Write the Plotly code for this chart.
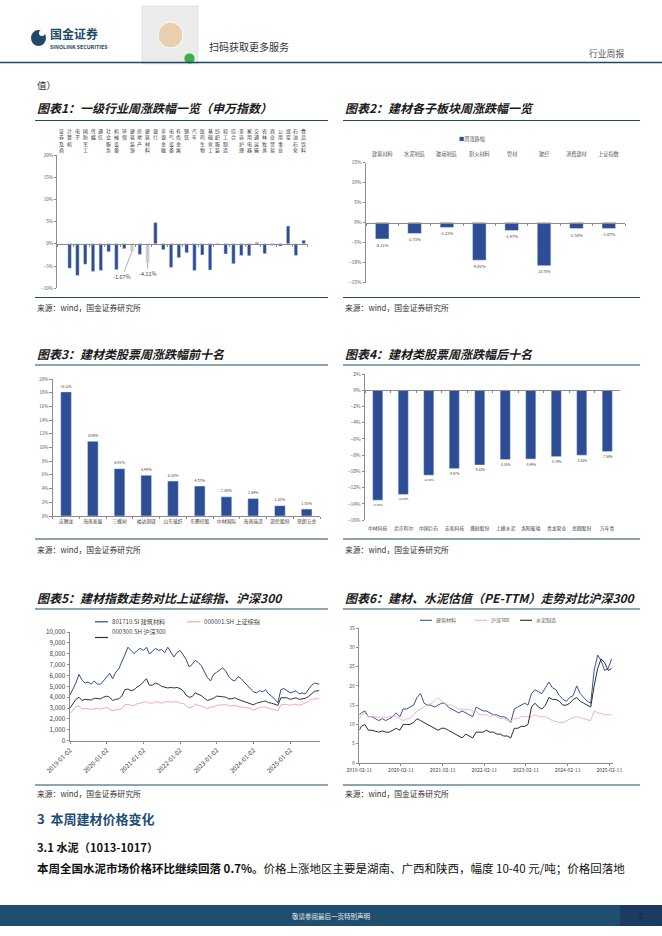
import plotly.graph_objects as go

W, H = 662, 936
def fx(x): return x / W
def fy(y): return 1 - y / H

FONT = "Noto Sans CJK SC"
BAR = "#2d4d96"
GRAY_BAR = "#c9c9c9"
AXC = "#8c8c8c"
TXT = "#404040"
TEAL = "#1d4a66"

# ---------------- data ----------------
c1_names = ["证券及商", "计算机", "电子", "国防军工", "传媒", "通信", "社会服务", "机械设备", "环保",
            "建筑装饰", "房地产", "建筑材料", "银行", "非银金融", "电气设备", "有色金属", "钢铁",
            "汽车", "医药生物", "基础化工", "纺织服装", "轻工制造", "综合", "美容护理", "家用电器",
            "交通运输", "农林牧渔", "商业贸易", "公用事业", "煤炭", "石油石化", "食品饮料"]
c1_values = [0.0, -5.5, -7.1, -4.6, -6.2, -6.0, -1.8, -5.8, -1.1, -1.67, -2.4, -4.11, 4.8, -1.3,
             -5.3, -3.1, -2.0, -6.0, -2.5, -5.9, -0.2, -2.3, -4.5, -2.6, -2.7, 0.3, -2.2, -0.3,
             -0.5, 4.0, -2.6, 0.8]
c1_highlight = ["建筑装饰", "建筑材料"]

c2_names = ["建筑材料", "水泥制造", "玻璃制造", "耐火材料", "管材", "玻纤", "消费建材", "上证指数"]
c2_values = [-4.11, -2.73, -1.23, -9.42, -1.97, -10.78, -1.50, -1.47]

c3_names = ["法狮龙", "海南发展", "三棵树", "福达铜镁", "山东玻纤", "东鹏控股", "中材国际", "海南瑞泽", "凯伦股份", "坚朗五金"]
c3_values = [18.12, 10.90, 6.91, 5.94, 5.10, 4.37, 2.80, 2.54, 1.51, 1.01]

c4_names = ["中材科技", "北京利尔", "中国巨石", "宏和科技", "濮耐股份", "上峰水泥", "洛阳玻璃", "青龙管业", "金圆股份", "万年青"]
c4_values = [-13.56, -12.86, -10.48, -9.67, -9.22, -8.55, -8.49, -8.19, -8.02, -7.56]

c5_dates = ("2019-01-02 2019-02-01 2019-03-01 2019-04-01 2019-05-01 2019-06-01 2019-07-01 2019-08-01 "
            "2019-09-01 2019-10-01 2019-11-01 2019-12-01 2020-01-01 2020-02-01 2020-03-01 2020-04-01 "
            "2020-05-01 2020-06-01 2020-07-01 2020-08-01 2020-09-01 2020-10-01 2020-11-01 2020-12-01 "
            "2021-01-01 2021-02-01 2021-03-01 2021-04-01 2021-05-01 2021-06-01 2021-07-01 2021-08-01 "
            "2021-09-01 2021-10-01 2021-11-01 2021-12-01 2022-01-01 2022-02-01 2022-03-01 2022-04-01 "
            "2022-05-01 2022-06-01 2022-07-01 2022-08-01 2022-09-01 2022-10-01 2022-11-01 2022-12-01 "
            "2023-01-01 2023-02-01 2023-03-01 2023-04-01 2023-05-01 2023-06-01 2023-07-01 2023-08-01 "
            "2023-09-01 2023-10-01 2023-11-01 2023-12-01 2024-01-01 2024-02-01 2024-03-01 2024-04-01 "
            "2024-05-01 2024-06-01 2024-07-01 2024-08-01 2024-09-01 2024-10-01 2024-11-01 2024-12-01 "
            "2025-01-01 2025-02-01 2025-03-01 2025-04-01 2025-05-01 2025-06-01 2025-07-01 2025-08-01 "
            "2025-09-01 2025-10-17").split()
c5_jc = [4200, 4700, 5300, 6100, 5600, 5300, 5400, 5200, 5500, 5200, 5200, 5500,
         5800, 6200, 5700, 6300, 6600, 7200, 7900, 8600, 8300, 8000, 8300, 8500,
         8300, 8600, 8000, 8200, 8500, 8300, 8400, 8100, 8600, 8200, 7700, 8100,
         8300, 7900, 7500, 6800, 7000, 7400, 7200, 6900, 6300, 5800, 5500, 6100,
         6300, 6500, 6700, 6400, 5900, 5600, 5500, 5900, 5700, 5400, 5100, 4800,
         4500, 4400, 4600, 4500, 4700, 4300, 4100, 3800, 3500, 4700, 4800, 4600,
         4400, 4500, 4600, 4300, 4400, 4300, 4700, 5100, 5300, 5200]
c5_sh = [2500, 2800, 3100, 3200, 2900, 2950, 2950, 2850, 2950, 2950, 2900, 3000,
         3050, 2900, 2750, 2850, 2850, 2950, 3300, 3350, 3250, 3250, 3400, 3450,
         3500, 3600, 3450, 3450, 3600, 3550, 3450, 3550, 3600, 3550, 3550, 3600,
         3450, 3450, 3250, 3000, 3100, 3350, 3250, 3200, 3050, 2950, 3100, 3100,
         3250, 3300, 3300, 3320, 3200, 3200, 3250, 3150, 3100, 3050, 3050, 2980,
         2800, 2950, 3050, 3100, 3100, 2980, 2900, 2850, 2750, 3300, 3350, 3350,
         3250, 3350, 3350, 3250, 3350, 3450, 3600, 3800, 3850, 3880]
c5_hs = [3000, 3400, 3800, 4000, 3700, 3800, 3800, 3750, 3900, 3900, 3850, 4000,
         4100, 4000, 3700, 3800, 3850, 4100, 4700, 4750, 4600, 4700, 4950, 5100,
         5400, 5700, 5100, 5100, 5300, 5200, 5000, 4900, 4850, 4900, 4850, 4900,
         4800, 4600, 4200, 4000, 4050, 4400, 4300, 4150, 3900, 3700, 3800, 3900,
         4100, 4100, 4050, 4000, 3850, 3850, 3950, 3800, 3700, 3600, 3550, 3450,
         3300, 3450, 3550, 3600, 3650, 3500, 3450, 3350, 3250, 3950, 3950, 3950,
         3800, 3900, 3950, 3800, 3850, 3900, 4050, 4300, 4550, 4600]
c5_names = ["801710.SI 建筑材料", "000001.SH 上证综指", "000300.SH 沪深300"]
c5_ticks = ["2019-01-02", "2020-01-02", "2021-01-02", "2022-01-02", "2023-01-02", "2024-01-02", "2025-01-02"]

c6_dates = ("2019-02-11 2019-03-01 2019-04-01 2019-05-01 2019-06-01 2019-07-01 2019-08-01 2019-09-01 "
            "2019-10-01 2019-11-01 2019-12-01 2020-01-01 2020-02-01 2020-03-01 2020-04-01 2020-05-01 "
            "2020-06-01 2020-07-01 2020-08-01 2020-09-01 2020-10-01 2020-11-01 2020-12-01 2021-01-01 "
            "2021-02-01 2021-03-01 2021-04-01 2021-05-01 2021-06-01 2021-07-01 2021-08-01 2021-09-01 "
            "2021-10-01 2021-11-01 2021-12-01 2022-01-01 2022-02-01 2022-03-01 2022-04-01 2022-05-01 "
            "2022-06-01 2022-07-01 2022-08-01 2022-09-01 2022-10-01 2022-11-01 2022-12-01 2023-01-01 "
            "2023-02-01 2023-03-01 2023-04-01 2023-05-01 2023-06-01 2023-07-01 2023-08-01 2023-09-01 "
            "2023-10-01 2023-11-01 2023-12-01 2024-01-01 2024-02-01 2024-03-01 2024-04-01 2024-05-01 "
            "2024-06-01 2024-07-01 2024-08-01 2024-09-01 2024-10-01 2024-11-01 2024-12-01 2025-01-01 "
            "2025-02-01 2025-03-03").split()
c6_jc = [12.5, 13.0, 13.5, 12.0, 12.0, 11.5, 11.0, 11.5, 11.0, 11.5, 12.0, 13.0,
         12.0, 14.0, 14.0, 14.5, 15.0, 17.0, 18.0, 15.5, 15.0, 15.0, 14.5, 15.0,
         15.5, 15.5, 14.5, 14.0, 13.5, 13.0, 13.5, 13.0, 12.5, 12.0, 14.5, 14.0,
         13.5, 13.5, 13.0, 12.5, 12.5, 12.0, 12.0, 11.5, 10.5, 14.0, 14.5, 15.0,
         15.5, 15.0, 18.0, 19.0, 18.5, 18.0, 19.5, 21.0, 19.5, 19.0, 17.5, 16.5,
         16.0, 17.0, 17.5, 20.0, 18.0, 17.0, 16.0, 15.5, 24.0, 28.0, 26.5, 24.0,
         24.5, 27.0]
c6_hs = [11.5, 12.5, 13.0, 12.0, 12.0, 12.0, 11.8, 12.0, 11.8, 12.0, 12.2, 12.0,
         11.5, 11.0, 11.5, 11.5, 12.5, 13.5, 14.0, 14.5, 15.0, 15.5, 16.0, 17.0,
         16.0, 15.5, 15.0, 15.0, 14.5, 14.0, 14.0, 13.8, 14.0, 13.5, 13.5, 12.5,
         12.5, 12.5, 12.0, 12.5, 12.0, 11.5, 11.5, 11.0, 10.8, 11.5, 11.5, 12.0,
         12.0, 12.0, 12.0, 12.5, 12.0, 12.0, 12.0, 11.5, 11.0, 10.8, 10.5, 10.5,
         11.0, 11.5, 11.8, 12.0, 11.8, 11.5, 11.2, 11.0, 13.5, 13.0, 12.8, 12.5,
         12.5, 12.5]
c6_sn = [8.5, 9.5, 10.0, 8.5, 8.5, 8.2, 8.0, 8.3, 8.0, 8.0, 8.5, 9.0,
         8.5, 10.0, 10.0, 10.0, 10.5, 11.5, 11.0, 10.5, 10.0, 9.5, 9.0, 8.5,
         9.0, 9.0, 8.5, 8.0, 7.5, 7.0, 6.5, 7.5, 7.0, 6.5, 8.0, 8.0,
         8.0, 8.5, 8.0, 8.0, 7.5, 7.5, 7.0, 7.0, 6.5, 9.0, 9.0, 9.5,
         9.5, 10.0, 14.5, 15.5, 14.5, 14.0, 15.0, 17.0, 16.5, 16.5, 16.0, 15.0,
         15.0, 15.5, 16.5, 17.0, 16.0, 15.5, 15.0, 14.5, 20.0, 24.5, 27.0, 26.0,
         24.0, 24.5]
c6_names = ["建筑材料", "沪深300", "水泥制造"]
c6_ticks = ["2019-02-11", "2020-02-11", "2021-02-11", "2022-02-11", "2023-02-11", "2024-02-11", "2025-02-11"]

# ---------------- figure ----------------
fig = go.Figure()
layout = dict(width=W, height=H, margin=dict(l=0, r=0, t=0, b=0, pad=0, autoexpand=False),
              paper_bgcolor="white", plot_bgcolor="rgba(0,0,0,0)",
              showlegend=False, font=dict(family=FONT, color=TXT))
ann = []
shapes = []

def yaxis_style(**kw):
    d = dict(showline=True, linecolor=AXC, linewidth=0.8, ticks="outside", ticklen=2.5,
             tickcolor=AXC, tickwidth=0.8, showgrid=False, zeroline=False, automargin=False,
             tickfont=dict(size=5, color="#595959", family=FONT))
    d.update(kw)
    return d

def zero_pos(ytop, ybot, lo, hi):
    d0, d1 = fy(ybot), fy(ytop)
    return d0 + (0 - lo) / (hi - lo) * (d1 - d0)

# chart 1
c1_colors = [GRAY_BAR if n in c1_highlight else BAR for n in c1_names]
fig.add_trace(go.Bar(x=c1_names, y=c1_values, marker_color=c1_colors, width=0.45,
                     xaxis="x", yaxis="y"))
layout["yaxis"] = yaxis_style(domain=[fy(288.3), fy(155)], range=[-10, 20], dtick=5,
                              ticksuffix="%", anchor="x", tickfont=dict(size=4.6, color="#595959"))
layout["xaxis"] = dict(domain=[fx(57.3), fx(308.2)], anchor="free", automargin=False,
                       position=zero_pos(155, 288.3, -10, 20), type="category",
                       showline=True, linecolor=AXC, linewidth=0.8, ticks="outside",
                       tickson="boundaries", ticklen=2, tickcolor=AXC, showticklabels=False,
                       showgrid=False)
for n in c1_names:
    ann.append(dict(x=n, xref="x", y=fy(125.5), yref="paper", yanchor="top", xanchor="center",
                    text="<br>".join(n), showarrow=False,
                    font=dict(size=4.9, color="#333333", family=FONT)))
for n in c1_highlight:
    v = c1_values[c1_names.index(n)]
    offx = -10 if n == "建筑装饰" else 0
    offy = 26 if n == "建筑装饰" else 12
    ann.append(dict(x=n, xref="x", y=v, yref="y", text=f"{v:.2f}%", showarrow=True,
                    arrowhead=0, arrowwidth=0.8, arrowcolor="#9a9a9a", ax=offx, ay=offy,
                    font=dict(size=5.5, color="#404040", family=FONT)))

# chart 2
fig.add_trace(go.Bar(x=c2_names, y=c2_values, marker_color=BAR, width=0.42, xaxis="x2", yaxis="y2",
                     texttemplate="%{y:.2f}%", textposition="outside", cliponaxis=False,
                     textfont=dict(size=5.8, color="#404040", family=FONT), name="周涨跌幅"))
layout["yaxis2"] = yaxis_style(domain=[fy(282.5), fy(162.7)], range=[-15, 15], dtick=5,
                               ticksuffix="%", anchor="x2")
layout["xaxis2"] = dict(domain=[fx(366), fx(625)], anchor="free", automargin=False,
                        position=zero_pos(162.7, 282.5, -15, 15), type="category",
                        showline=True, linecolor=AXC, linewidth=0.8, ticks="outside",
                        tickson="boundaries", ticklen=2, tickcolor=AXC, showticklabels=False,
                        showgrid=False)
for n in c2_names:
    ann.append(dict(x=n, xref="x2", y=fy(148), yref="paper", text=n, showarrow=False,
                    font=dict(size=5.2, color="#595959", family=FONT)))
ann.append(dict(x=fx(487), y=fy(133.5), xref="paper", yref="paper", showarrow=False,
                text=f"<span style='color:{BAR}'>■</span>周涨跌幅",
                font=dict(size=5.2, color="#595959", family=FONT)))

# chart 3
fig.add_trace(go.Bar(x=c3_names, y=c3_values, marker_color=BAR, width=0.4, xaxis="x3", yaxis="y3",
                     texttemplate="%{y:.2f}%", textposition="outside", cliponaxis=False,
                     textfont=dict(size=5.5, color="#404040", family=FONT)))
layout["yaxis3"] = yaxis_style(domain=[fy(516), fy(379)], range=[0, 20], dtick=2,
                               ticksuffix="%", anchor="x3", tickfont=dict(size=4.5, color="#595959"))
layout["xaxis3"] = dict(domain=[fx(52.7), fx(320)], anchor="y3", type="category", automargin=False,
                        showline=True, linecolor=AXC, linewidth=0.8, ticks="outside",
                        tickson="boundaries", ticklen=2, tickcolor=AXC, showgrid=False,
                        tickangle=0, tickfont=dict(size=4.8, color="#404040", family=FONT))

# chart 4
fig.add_trace(go.Bar(x=c4_names, y=c4_values, marker_color=BAR, width=0.4, xaxis="x4", yaxis="y4",
                     texttemplate="%{y:.2f}%", textposition="outside", cliponaxis=False,
                     textfont=dict(size=5.5, color="#404040", family=FONT)))
layout["yaxis4"] = yaxis_style(domain=[fy(520), fy(374)], range=[-16, 2], dtick=2,
                               ticksuffix="%", anchor="x4")
layout["xaxis4"] = dict(domain=[fx(365), fx(620)], anchor="free", automargin=False,
                        position=zero_pos(374, 520, -16, 2), type="category",
                        showline=True, linecolor=AXC, linewidth=0.8, ticks="outside",
                        tickson="boundaries", ticklen=2, tickcolor=AXC, showticklabels=False,
                        showgrid=False)
for n in c4_names:
    ann.append(dict(x=n, xref="x4", y=fy(527.5), yref="paper", text=n, showarrow=False,
                    font=dict(size=4.8, color="#404040", family=FONT)))

# chart 5
c5_colors = ["#2f4a8c", "#f2a7b4", "#333333"]
for s, nm, col in zip([c5_jc, c5_sh, c5_hs], c5_names, c5_colors):
    fig.add_trace(go.Scatter(x=c5_dates, y=s, mode="lines", name=nm,
                             line=dict(color=col, width=1.0), xaxis="x5", yaxis="y5"))
layout["yaxis5"] = yaxis_style(domain=[fy(740.7), fy(632)], range=[0, 10000], dtick=1000,
                               tickformat=",", anchor="x5",
                               tickfont=dict(size=6.3, color="#404040", family=FONT))
layout["xaxis5"] = dict(domain=[fx(70), fx(320)], anchor="y5", type="date", automargin=False,
                        range=["2019-01-02", "2025-10-25"], tickvals=c5_ticks, ticktext=c5_ticks,
                        tickangle=-45, showline=True, linecolor=AXC, linewidth=0.8,
                        ticks="outside", ticklen=2.5, tickcolor=AXC, showgrid=False,
                        tickfont=dict(size=6.3, color="#404040", family=FONT))
leg5 = [(95, 621.8), (187, 621.8), (95, 637.5)]
for (lx, ly), nm, col in zip(leg5, c5_names, c5_colors):
    shapes.append(dict(type="line", xref="paper", yref="paper", x0=fx(lx), x1=fx(lx + 13),
                       y0=fy(ly), y1=fy(ly), line=dict(color=col, width=1.2)))
    ann.append(dict(x=fx(lx + 15), y=fy(ly), xref="paper", yref="paper", xanchor="left",
                    text=nm, showarrow=False, font=dict(size=6.1, color="#404040", family=FONT)))

# chart 6
c6_colors = ["#34549c", "#f4b3c2", "#2b2b2b"]
for s, nm, col in zip([c6_jc, c6_hs, c6_sn], c6_names, c6_colors):
    fig.add_trace(go.Scatter(x=c6_dates, y=s, mode="lines", name=nm,
                             line=dict(color=col, width=1.0), xaxis="x6", yaxis="y6"))
layout["yaxis6"] = yaxis_style(domain=[fy(763), fy(628)], range=[0, 35], dtick=5, anchor="x6")
layout["xaxis6"] = dict(domain=[fx(359.3), fx(613.3)], anchor="y6", type="date", automargin=False,
                        range=["2019-02-11", "2025-03-18"], tickvals=c6_ticks, ticktext=c6_ticks,
                        showline=True, linecolor=AXC, linewidth=0.8, ticks="outside",
                        ticklen=2.5, tickcolor=AXC, showgrid=False,
                        tickfont=dict(size=5, color="#404040", family=FONT))
leg6 = [420, 475, 520]
for lx, nm, col in zip(leg6, c6_names, c6_colors):
    shapes.append(dict(type="line", xref="paper", yref="paper", x0=fx(lx), x1=fx(lx + 12),
                       y0=fy(620.3), y1=fy(620.3), line=dict(color=col, width=1.1)))
    ann.append(dict(x=fx(lx + 14), y=fy(620.3), xref="paper", yref="paper", xanchor="left",
                    text=nm, showarrow=False, font=dict(size=5, color="#595959", family=FONT)))

# ---------------- page furniture ----------------
def text(x, y, s, size, color="#222222", anchor="left", bold=False, italic=False):
    f = dict(size=size, color=color, family=FONT)
    if bold:
        f["weight"] = "bold"
    if italic:
        f["style"] = "italic"
    ann.append(dict(x=fx(x), y=fy(y), xref="paper", yref="paper", xanchor=anchor,
                    yanchor="middle", text=s, showarrow=False, font=f))

def hline(x0, x1, y, color=TEAL, width=1.2):
    shapes.append(dict(type="line", xref="paper", yref="paper", x0=fx(x0), x1=fx(x1),
                       y0=fy(y), y1=fy(y), line=dict(color=color, width=width)))

# header
shapes.append(dict(type="circle", xref="paper", yref="paper", x0=fx(31), x1=fx(46),
                   y0=fy(46), y1=fy(30), fillcolor=TEAL, line=dict(width=0)))
shapes.append(dict(type="circle", xref="paper", yref="paper", x0=fx(39), x1=fx(45),
                   y0=fy(36), y1=fy(30), fillcolor="white", line=dict(width=0)))
text(48, 34, "国金证券", 12, TEAL, bold=True)
text(48, 46.5, "SINOLINK SECURITIES", 5.3, TEAL, bold=True)
shapes.append(dict(type="rect", xref="paper", yref="paper", x0=fx(142), x1=fx(198),
                   y0=fy(64), y1=fy(6), fillcolor="#ececec", line=dict(color="#d0d0d0", width=0.5)))
shapes.append(dict(type="circle", xref="paper", yref="paper", x0=fx(158), x1=fx(183),
                   y0=fy(48), y1=fy(22), fillcolor="#e8cfb0", line=dict(color="white", width=1)))
shapes.append(dict(type="circle", xref="paper", yref="paper", x0=fx(184), x1=fx(195),
                   y0=fy(64), y1=fy(53), fillcolor="#3fae49", line=dict(color="white", width=0.6)))
text(207, 46.5, "扫码获取更多服务", 10, "#333333")
text(626, 53.5, "行业周报", 8.8, "#555555", anchor="right")
hline(0, 662, 62.5, TEAL, 1.5)
text(35, 85, "值）", 9.5, "#333333")

# titles, rules, sources
for x0, x1, y, s in [(35, 328, 107.5, "图表1：一级行业周涨跌幅一览（申万指数）"),
                     (343, 640, 107.5, "图表2：建材各子板块周涨跌幅一览"),
                     (35, 328, 353, "图表3：建材类股票周涨跌幅前十名"),
                     (343, 640, 353, "图表4：建材类股票周涨跌幅后十名"),
                     (35, 328, 597, "图表5：建材指数走势对比上证综指、沪深300"),
                     (343, 640, 597, "图表6：建材、水泥估值（PE-TTM）走势对比沪深300")]:
    text(x0, y, s, 12, "#1a1a1a", bold=True, italic=True)
for y in [120.5, 365, 609]:
    hline(35, 328, y)
    hline(343, 640, y)
for y_line, y_txt in [(297.5, 307.5), (539, 549), (785, 793.5)]:
    hline(35, 328, y_line, TEAL, 1.0)
    hline(343, 640, y_line, TEAL, 1.0)
    text(35, y_txt, "来源：wind，国金证券研究所", 7.8, "#333333")
    text(343, y_txt, "来源：wind，国金证券研究所", 7.8, "#333333")

text(35, 818.5, "3  本周建材价格变化", 13, "#1f4e79", bold=True)
text(35, 846.5, "3.1 水泥（1013-1017）", 11.2, "#111111", bold=True)
text(35, 867.5, "<b>本周全国水泥市场价格环比继续回落 0.7%。</b>价格上涨地区主要是湖南、广西和陕西，幅度 10-40 元/吨；价格回落地",
     11.5, "#111111")

# footer
shapes.append(dict(type="rect", xref="paper", yref="paper", x0=0, x1=fx(620),
                   y0=fy(926), y1=fy(905), fillcolor="#1f4e6e", line=dict(width=0)))
shapes.append(dict(type="rect", xref="paper", yref="paper", x0=fx(620), x1=1,
                   y0=fy(926), y1=fy(905), fillcolor="#1c3b60", line=dict(width=0)))
text(331, 915.5, "敬请参阅最后一页特别声明", 6.5, "#e8eef3", anchor="center")
text(641, 915.5, "5", 8, "#0f2238", anchor="center")

layout["annotations"] = ann
layout["shapes"] = shapes
fig.update_layout(**layout)
fig.write_html("out.html", config={"displayModeBar": False},
               post_script="document.body.style.margin='0px';")
